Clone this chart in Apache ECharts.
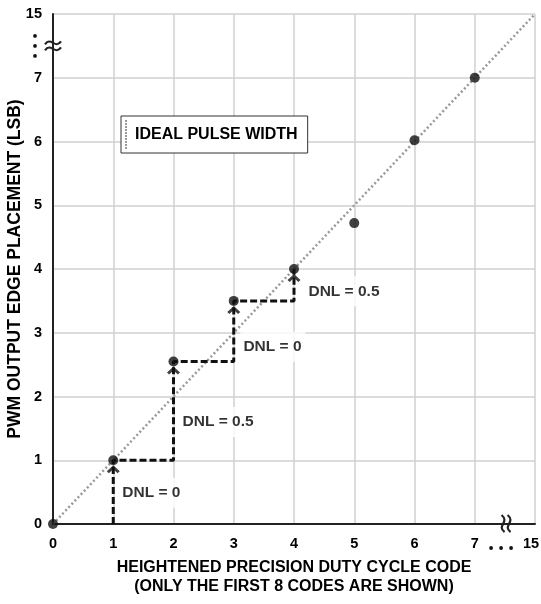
<!DOCTYPE html>
<html><head><meta charset="utf-8">
<script src="https://cdn.jsdelivr.net/npm/echarts/dist/echarts.min.js"></script>
<style>html,body{margin:0;padding:0;background:#fff}#c{width:541px;height:604px}</style>
</head><body><div id="c"></div>
<script>
// ---- data ----
const codes = [0, 1, 2, 3, 4, 5, 6, 7];
const placement = [0, 1, 2.55, 3.5, 4, 4.72, 6.02, 7];
const xTickLabels = ['0', '1', '2', '3', '4', '5', '6', '7', '15'];
const yTickLabels = ['0', '1', '2', '3', '4', '5', '6', '7', '15'];
const idealCodes = [0, 15];
const idealPlacement = [0, 15];
const stairX = [1, 1, 2, 2, 3, 3, 4, 4];
const stairY = [0, 1, 1, 2.55, 2.55, 3.5, 3.5, 4];
const arrowX = [1, 2, 3, 4];
const arrowY = [1, 2.55, 3.5, 4];
const dnlText = ['DNL = 0', 'DNL = 0.5', 'DNL = 0', 'DNL = 0.5'];
const dnlX = [1.10, 2.10, 3.11, 4.19];
const dnlY = [0.49, 1.60, 2.78, 3.65];
const xTitle = 'HEIGHTENED PRECISION DUTY CYCLE CODE\n(ONLY THE FIRST 8 CODES ARE SHOWN)';
const yTitle = 'PWM OUTPUT EDGE PLACEMENT (LSB)';
const legendName = 'IDEAL PULSE WIDTH';

// ---- drawing ----
const FONT = '"Liberation Sans", Arial, Helvetica, sans-serif';
const BREAK_SLOT = 8;           // values beyond 7 sit at the slot after the axis break
const slot = v => (v > 7 ? BREAK_SLOT : v);
const chart = echarts.init(document.getElementById('c'), null, {renderer: 'canvas'});

let dotsPath = 'path://';
for (let i = 0; i < 10; i++) dotsPath += 'M0,' + (i * 3) + 'h2v2h-2z ';
const chevron = 'path://M0,6 L6,0 L12,6 L10,8 L6,4 L2,8 Z';

const tickStyle = {fontSize: 14.5, fontWeight: 'bold', color: '#000', fontFamily: FONT};

chart.setOption({
  animation: false,
  backgroundColor: '#fff',
  grid: {left: 53, right: 6, top: 14, bottom: 80, containLabel: false, outerBoundsMode: 'none'},
  legend: {
    data: [legendName], left: 121, top: 116,
    backgroundColor: '#fff', borderColor: '#333', borderWidth: 1,
    padding: [4, 10, 4, 4], itemWidth: 8, itemHeight: 29,
    icon: dotsPath, symbolKeepAspect: true,
    itemStyle: {color: '#999', borderWidth: 0},
    textStyle: {fontSize: 16, fontWeight: 'bold', color: '#000', fontFamily: FONT},
    selectedMode: false
  },
  xAxis: {
    type: 'value', min: 0, max: BREAK_SLOT, interval: 1,
    axisLine: {show: true, onZero: false, lineStyle: {color: '#222', width: 2}},
    axisTick: {show: false},
    splitLine: {show: true, lineStyle: {color: '#d0d0d0', width: 1.5}},
    axisLabel: Object.assign({
      margin: 12, showMinLabel: true, showMaxLabel: true, hideOverlap: false,
      formatter: v => (Math.round(v) === BREAK_SLOT ? '{s|' + xTickLabels[BREAK_SLOT] + '}' : xTickLabels[Math.round(v)]),
      rich: {s: Object.assign({padding: [0, 8, 0, 0]}, tickStyle)}
    }, tickStyle),
    name: xTitle, nameLocation: 'middle', nameGap: 34, nameMoveOverlap: false,
    nameTextStyle: {fontSize: 16, fontWeight: 'bold', color: '#000', fontFamily: FONT, lineHeight: 19}
  },
  yAxis: {
    type: 'value', min: 0, max: BREAK_SLOT, interval: 1,
    axisLine: {show: true, onZero: false, lineStyle: {color: '#222', width: 2}},
    axisTick: {show: false},
    splitLine: {show: true, lineStyle: {color: '#d0d0d0', width: 1.5}},
    axisLabel: Object.assign({
      margin: 11, showMinLabel: true, showMaxLabel: true, hideOverlap: false,
      formatter: v => yTickLabels[Math.round(v)]
    }, tickStyle),
    name: yTitle, nameLocation: 'middle', nameGap: 29, nameMoveOverlap: false,
    nameTextStyle: {fontSize: 17.5, fontWeight: 'bold', color: '#000', fontFamily: FONT}
  },
  series: [
    {
      name: legendName, type: 'line', silent: true, z: 2,
      data: idealCodes.map((c, i) => [slot(c), slot(idealPlacement[i])]),
      symbol: 'none', itemStyle: {color: '#999'},
      lineStyle: {color: '#999', width: 2.5, type: [2, 2.5]}
    },
    {
      name: 'stair', type: 'line', silent: true, z: 3,
      data: stairX.map((x, i) => [x, stairY[i]]),
      symbol: 'none', lineStyle: {color: '#111', width: 3, type: [7, 3]}
    },
    {
      name: 'arrows', type: 'scatter', silent: true, z: 4,
      data: arrowX.map((x, i) => [x, arrowY[i]]),
      symbol: chevron, symbolSize: [13, 8], symbolOffset: [0, 9],
      itemStyle: {color: '#111'}
    },
    {
      name: 'codes', type: 'scatter', silent: true, z: 5,
      data: codes.map((c, i) => [c, placement[i]]),
      symbolSize: 10, itemStyle: {color: '#111'}
    },
    {
      name: 'dnl', type: 'scatter', silent: true, z: 6,
      data: dnlX.map((x, i) => [x, dnlY[i]]),
      symbolSize: 0, itemStyle: {color: 'rgba(0,0,0,0)'},
      label: {
        show: true, position: 'right', distance: 0,
        formatter: p => dnlText[p.dataIndex],
        backgroundColor: '#fff', padding: [7, 4, 7, 3],
        fontSize: 15.5, fontWeight: 'bold', color: '#000', fontFamily: FONT
      }
    }
  ]
});

// axis-break marks, placed through the chart's own coordinate conversion
const yb = chart.convertToPixel({gridIndex: 0}, [0, 7.5]);
const xb = chart.convertToPixel({gridIndex: 0}, [7.52, 0]);
const markStyle = {stroke: '#222', lineWidth: 2.2, fill: null};
const g = [];
[-3, 3].forEach(d => {
  // horizontal tilde across the y axis
  g.push({type: 'bezierCurve', shape: {
    x1: yb[0] - 8, y1: yb[1] + d + 1.5, x2: yb[0] + 8, y2: yb[1] + d - 1.5,
    cpx1: yb[0] - 2, cpy1: yb[1] + d - 7, cpx2: yb[0] + 2, cpy2: yb[1] + d + 7
  }, style: markStyle, z: 100});
  // vertical tilde across the x axis
  g.push({type: 'bezierCurve', shape: {
    x1: xb[0] + d - 1.5, y1: xb[1] - 9, x2: xb[0] + d + 1.5, y2: xb[1] + 8,
    cpx1: xb[0] + d + 7, cpy1: xb[1] - 2, cpx2: xb[0] + d - 7, cpy2: xb[1] + 2
  }, style: markStyle, z: 100});
});
[-10, 0, 10].forEach(d => {
  g.push({type: 'circle', shape: {cx: yb[0] - 18, cy: yb[1] + d, r: 1.9}, style: {fill: '#111'}, z: 100});
  g.push({type: 'circle', shape: {cx: xb[0] - 5 + d, cy: xb[1] + 24, r: 1.9}, style: {fill: '#111'}, z: 100});
});
chart.setOption({graphic: g});
</script>
</body></html>
